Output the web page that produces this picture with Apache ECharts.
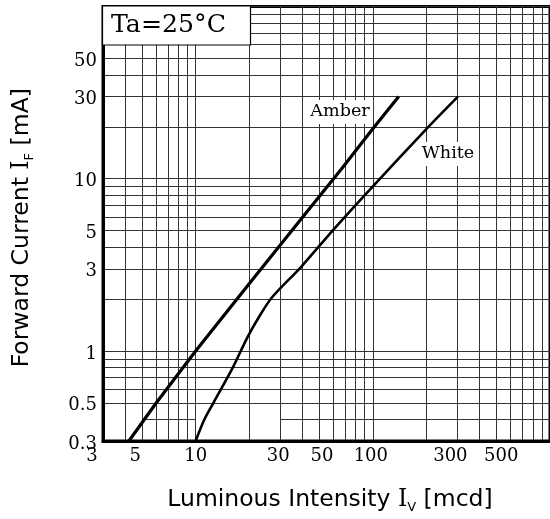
<!DOCTYPE html>
<html><head><meta charset="utf-8">
<script src="https://cdn.jsdelivr.net/npm/echarts@6/dist/echarts.min.js"></script>
<style>html,body{margin:0;padding:0;background:#fff}#c{width:550px;height:519px}</style>
</head><body><div id="c"></div>
<script>
// ---- data ----
const amberX = [4.2, 6.0, 10, 20.0, 39.5, 66.5, 100, 140];
const amberY = [0.3, 0.5, 1, 2.45, 5.85, 11.4, 19.5, 30];
const whiteX = [10, 11.2, 12.6, 16.2, 19.6, 23, 27, 39.3, 60.5, 101, 201, 302];
const whiteY = [0.3, 0.4, 0.5, 0.8, 1.2, 1.6, 2.05, 3.07, 5.12, 9.13, 19.5, 30];
const xTickLabels = [3, 5, 10, 30, 50, 100, 300, 500];
const yTickLabels = [0.3, 0.5, 1, 3, 5, 10, 30, 50];
const xGrid = [3,4,5,6,7,8,9,10,20,30,40,50,60,70,80,90,100,200,300,400,500,600,700,800,900,1000];
const yGrid = [0.3,0.5,0.6,0.7,0.8,0.9,1,2,3,4,5,6,7,8,9,10,20,30,40,50,60,70,80,90,100];
// the 0.4 mA grid line is only partly printed in the reference
const partialGridY = 0.4;
const partialGridSpans = [[5, 10], [30, 1000]];
const seriesNames = ['Amber', 'White'];

const toPairs = (xs, ys) => xs.map((x, i) => [x, ys[i]]);

const chart = echarts.init(document.getElementById('c'), null, {renderer: 'canvas'});
const serif = 'DejaVu Serif';
const sans = 'DejaVu Sans';
const tickFont = 18;

const xRich = {
  n: {}, s3: {padding: [0, 22, 0, 0]}, s5: {padding: [0, 14, 0, 0]},
  s30: {padding: [0, 4, 0, 0]}, s50: {padding: [0, 0, 0, 5]},
  s100: {padding: [0, 4, 0, 0]}, s300: {padding: [0, 14, 0, 0]}, s500: {padding: [0, 0, 0, 9]}
};
Object.keys(xRich).forEach(k => {
  xRich[k].fontFamily = serif; xRich[k].fontSize = tickFont; xRich[k].color = '#000';
});

const nameStyle = (extraPad) => ({
  fontFamily: sans, fontSize: 23.5, color: '#000', lineHeight: 28, padding: extraPad,
  rich: {i: {fontFamily: serif, fontSize: 23.5, color: '#000', lineHeight: 28},
         sub: {fontFamily: sans, fontSize: 13, color: '#000', verticalAlign: 'bottom', lineHeight: 13}}
});

chart.setOption({
  animation: false,
  backgroundColor: '#fff',
  grid: {left: 103, right: -4.4, top: 6.5, bottom: 76.7, show: true,
         borderColor: '#000', borderWidth: 3, backgroundColor: 'transparent'},
  xAxis: {
    type: 'log', logBase: 10, min: 3, max: 1000,
    axisLine: {show: true, onZero: false, lineStyle: {color: '#000', width: 3}},
    axisTick: {show: false, customValues: xGrid},
    splitLine: {show: true, lineStyle: {color: '#333', width: 1}},
    axisLabel: {
      customValues: xTickLabels, margin: 6, color: '#000',
      fontFamily: serif, fontSize: tickFont,
      formatter: v => {
        const key = 's' + v;
        return xRich[key] ? '{' + key + '|' + v + '}' : '{n|' + v + '}';
      },
      rich: xRich
    },
    name: 'Luminous Intensity {i|I}{sub|V} [mcd]',
    nameLocation: 'middle', nameGap: 45,
    nameTextStyle: nameStyle([0, 0, 0, 7])
  },
  yAxis: {
    type: 'log', logBase: 10, min: 0.3, max: 100,
    axisLine: {show: true, onZero: false, lineStyle: {color: '#000', width: 3}},
    axisTick: {show: false, customValues: yGrid},
    splitLine: {show: true, lineStyle: {color: '#333', width: 1}},
    axisLabel: {
      customValues: yTickLabels, margin: 6, color: '#000',
      fontFamily: serif, fontSize: tickFont,
      formatter: v => '{y|' + v + '}',
      rich: {y: {fontFamily: serif, fontSize: tickFont, color: '#000', padding: [6, 0, 0, 0]}}
    },
    name: 'Forward Current {i|I}{sub|F} [mA]',
    nameLocation: 'middle', nameGap: 67, nameRotate: 90,
    nameTextStyle: nameStyle([0, 8, 0, 0])
  },
  series: [
    {name: seriesNames[0], type: 'line', data: toPairs(amberX, amberY), showSymbol: false,
     lineStyle: {color: '#000', width: 3.2}, z: 5,
     markLine: {silent: true, symbol: 'none', animation: false, label: {show: false},
       lineStyle: {color: '#333', width: 1, type: 'solid'}, z: 1,
       data: partialGridSpans.map(s => [{coord: [s[0], partialGridY]}, {coord: [s[1], partialGridY]}])}},
    {name: seriesNames[1], type: 'line', data: toPairs(whiteX, whiteY), showSymbol: false, smooth: 0.3,
     lineStyle: {color: '#000', width: 2.6}, z: 5}
  ],
  graphic: [
    {type: 'rect', shape: {x: 102.5, y: 6, width: 148, height: 39}, z: 100,
     style: {fill: '#fff', stroke: '#000', lineWidth: 1.2}},
    {type: 'text', x: 111, y: 26, z: 101, scaleX: 1.05,
     style: {text: 'Ta=25°C', font: '24px "DejaVu Serif"', fill: '#000', verticalAlign: 'middle', align: 'left'}},
    {type: 'text', x: 340, y: 112, z: 101, scaleX: 1.1,
     style: {text: 'Amber', font: '16px "DejaVu Serif"', fill: '#000', align: 'center', verticalAlign: 'middle',
             backgroundColor: '#fff', padding: [4, 3, 4, 3]}},
    {type: 'text', x: 448, y: 154, z: 101, scaleX: 1.1,
     style: {text: 'White', font: '16px "DejaVu Serif"', fill: '#000', align: 'center', verticalAlign: 'middle',
             backgroundColor: '#fff', padding: [4, 3, 4, 3]}}
  ]
});
</script></body></html>
